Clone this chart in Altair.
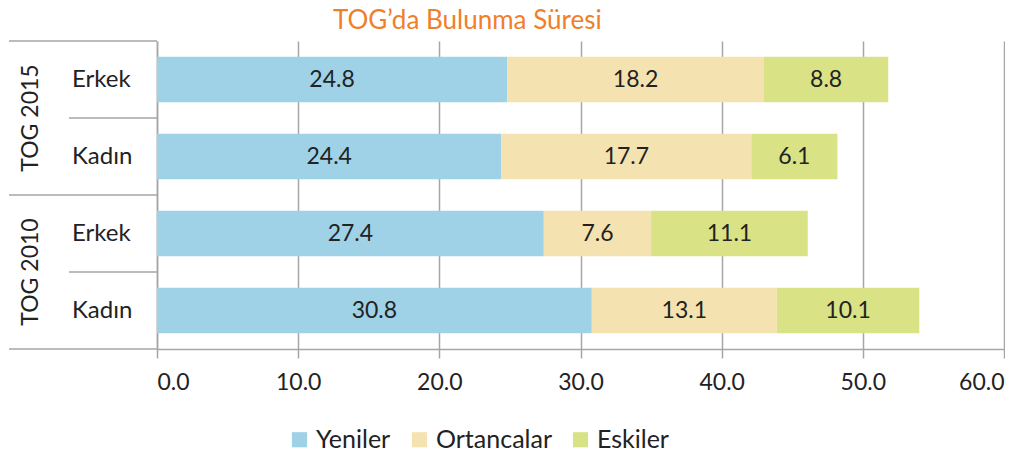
import altair as alt
import pandas as pd

groups = ["TOG 2015", "TOG 2015", "TOG 2010", "TOG 2010"]
sexes = ["Erkek", "Kadın", "Erkek", "Kadın"]
series = ["Yeniler", "Ortancalar", "Eskiler"]
yeniler = [24.8, 24.4, 27.4, 30.8]
ortancalar = [18.2, 17.7, 7.6, 13.1]
eskiler = [8.8, 6.1, 11.1, 10.1]
colors = ["#9FD1E7", "#F5E2B1", "#D9E385"]
x_ticks = [0, 10, 20, 30, 40, 50, 60]

cats = [f"{g}|{s}" for g, s in zip(groups, sexes)]
rows = []
for i, c in enumerate(cats):
    for j, (name, vals) in enumerate(zip(series, [yeniler, ortancalar, eskiler])):
        rows.append({"cat": c, "group": groups[i], "sex": sexes[i],
                     "series": name, "order": j, "value": vals[i]})
df = pd.DataFrame(rows)
cat_df = pd.DataFrame({"cat": cats, "group": groups, "sex": sexes})

FONT = "Lato"
GRID = "#A6A6A6"

yscale = alt.Scale(domain=cats, paddingInner=0, paddingOuter=0)

base = alt.Chart(df).transform_stack(
    stack="value", groupby=["cat"], as_=["x0", "x1"],
    sort=[alt.SortField("order", order="ascending")]
)

bars = base.mark_bar(height={"band": 0.59}).encode(
    y=alt.Y("cat:N", scale=yscale, sort=cats,
            axis=alt.Axis(title=None, labels=False, ticks=False, domain=True,
                          domainColor=GRID, domainWidth=1.5, grid=False)),
    x=alt.X("x0:Q", scale=alt.Scale(domain=[0, 60], nice=False),
            axis=alt.Axis(title=None, values=x_ticks, format=".1f", grid=True,
                          gridColor=GRID, gridWidth=1.5, domainColor=GRID,
                          domainWidth=1.5, tickColor=GRID, tickWidth=1.5,
                          tickSize=9, labelPadding=13, labelFontSize=23,
                          labelFont=FONT, labelColor="#222222")),
    x2="x1:Q",
    color=alt.Color("series:N", scale=alt.Scale(domain=series, range=colors),
                    legend=alt.Legend(title=None, orient="none", direction="horizontal",
                                      legendX=130, legendY=386, symbolType="square",
                                      symbolSize=230, symbolStrokeWidth=0,
                                      labelFont=FONT, labelFontSize=25,
                                      labelColor="#222222", columnPadding=16,
                                      labelOffset=4)),
)

texts = base.transform_calculate(mid="(datum.x0 + datum.x1) / 2").mark_text(
    font=FONT, fontSize=23, color="#222222"
).encode(
    y=alt.Y("cat:N", scale=yscale, sort=cats),
    x=alt.X("mid:Q"),
    text=alt.Text("value:Q", format=".1f"),
)

cbase = alt.Chart(cat_df)

rule_full = cbase.transform_filter(alt.datum.sex == "Erkek").mark_rule(
    color=GRID, strokeWidth=1.5
).encode(
    y=alt.Y("cat:N", scale=yscale, sort=cats, bandPosition=0),
    x=alt.value(-148), x2=alt.value(0),
)
rule_short = cbase.transform_filter(alt.datum.sex == "Kadın").mark_rule(
    color=GRID, strokeWidth=1.5
).encode(
    y=alt.Y("cat:N", scale=yscale, sort=cats, bandPosition=0),
    x=alt.value(-88), x2=alt.value(0),
)
rule_bottom = cbase.transform_filter(alt.datum.cat == cats[-1]).mark_rule(
    color=GRID, strokeWidth=1.5
).encode(
    y=alt.Y("cat:N", scale=yscale, sort=cats, bandPosition=1),
    x=alt.value(-148), x2=alt.value(0),
)

sex_labels = cbase.mark_text(font=FONT, fontSize=24, color="#222222", align="left").encode(
    y=alt.Y("cat:N", scale=yscale, sort=cats),
    x=alt.value(-85),
    text="sex:N",
)

group_labels = cbase.transform_filter(alt.datum.sex == "Erkek").mark_text(
    font=FONT, fontSize=23, color="#222222", angle=270, align="center", baseline="middle"
).encode(
    y=alt.Y("cat:N", scale=yscale, sort=cats, bandPosition=1),
    x=alt.value(-126),
    text="group:N",
)

chart = alt.layer(
    bars, texts, rule_full, rule_short, rule_bottom, sex_labels, group_labels
).properties(
    width=847, height=308, padding=0,
    title=alt.TitleParams("TOG’da Bulunma Süresi", font=FONT, fontSize=26,
                          fontWeight="normal", color="#F07F2A", anchor="start",
                          frame="group", dx=176, offset=6),
).configure_view(stroke=None)

chart.save("out.html", embed_options={"renderer": "svg", "actions": False})
